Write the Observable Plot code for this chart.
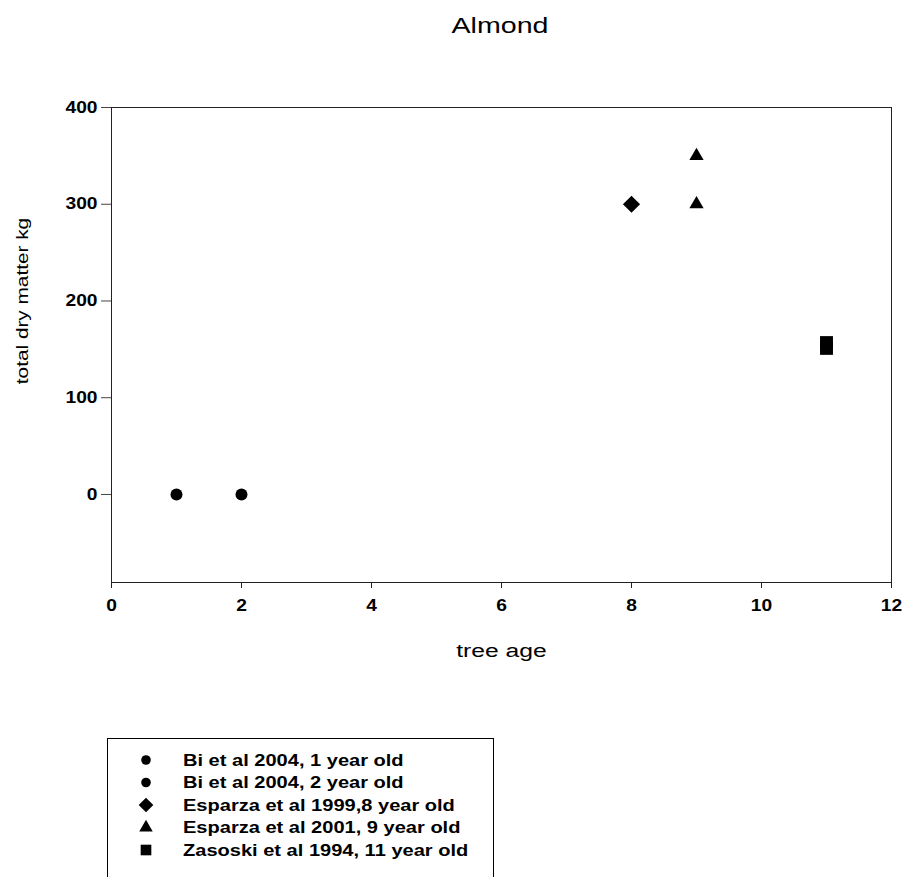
<!DOCTYPE html>
<html><head><meta charset="utf-8">
<script src="https://cdn.jsdelivr.net/npm/d3@7"></script>
<script src="https://cdn.jsdelivr.net/npm/@observablehq/plot@0.6"></script>
<style>
html,body{margin:0;padding:0;background:#fff;overflow:hidden}
#root{position:relative;width:906px;height:877px;font-family:"Liberation Sans",Arial,sans-serif;overflow:hidden}
#root > svg{position:absolute;left:0;top:0}
#root g[aria-label="x-axis tick label"], #root g[aria-label="y-axis tick label"]{font-weight:bold;font-size:16px}
</style></head><body><div id="root"></div>
<script>
// ---- data ----
const title = "Almond";
const xLabel = "tree age";
const yLabel = "total dry matter kg";
const xTicks = [0, 2, 4, 6, 8, 10, 12];
const yTicks = [0, 100, 200, 300, 400];
const seriesNames = [
  "Bi et al 2004, 1 year old",
  "Bi et al 2004, 2 year old",
  "Esparza et al 1999,8 year old",
  "Esparza et al 2001, 9 year old",
  "Zasoski et al 1994, 11 year old"
];
const seriesSymbols = ["circle", "circle", "diamond2", "triangle", "square"];
const pointSeries = [0, 1, 2, 3, 3, 4, 4];
const pointAge = [1, 2, 8, 9, 9, 11, 11];
const pointMatter = [0, 0, 300, 350, 300, 157, 151];

// ---- styles ----
const FONT = '"Liberation Sans", Arial, sans-serif';
const chartR = {circle: 6, diamond2: 7.7, triangle: 5.3, square: 7.3};
const legendR = {circle: 4.8, diamond2: 6.6, triangle: 5.0, square: 6.0};

const points = pointAge.map((a, i) => ({
  age: a, matter: pointMatter[i],
  series: seriesNames[pointSeries[i]],
  symbol: seriesSymbols[pointSeries[i]]
}));

const symbolTypes = Array.from(new Set(seriesSymbols));

const chart = Plot.plot({
  width: 906, height: 700,
  marginTop: 107, marginRight: 15, marginBottom: 118, marginLeft: 111,
  style: {fontFamily: FONT, fontSize: "16px", color: "#000", background: "transparent", overflow: "visible"},
  x: {domain: [0, 12]},
  y: {domain: [-91, 400]},
  marks: [
    Plot.frame({stroke: "#222"}),
    Plot.axisX({ticks: xTicks, tickSize: 6, tickPadding: 11, label: null, stroke: "#222", fontSize: 16}),
    Plot.axisY({ticks: yTicks, tickSize: 10, tickPadding: 4, label: null, stroke: "#444", fontSize: 16}),
    Plot.text([xLabel], {text: d => d, frameAnchor: "bottom", textAnchor: "middle", lineAnchor: "middle", dy: 68, fontSize: 19}),
    Plot.text([yLabel], {text: d => d, frameAnchor: "left", textAnchor: "middle", lineAnchor: "middle", dx: -89, dy: -44, rotate: -90, fontSize: 16}),
    ...symbolTypes.map(s => Plot.dot(points.filter(d => d.symbol === s), {
      x: "age", y: "matter", symbol: s, r: chartR[s], fill: "black", stroke: "none"
    }))
  ]
});

// widen text (reference font is horizontally wide)
function stretchText(svg) {
  svg.querySelectorAll("text").forEach(el => {
    const inAxis = el.closest('g[aria-label$="tick label"]');
    const k = inAxis ? 1.2 : 1.3;
    const t = el.getAttribute("transform");
    if (t) el.setAttribute("transform", t + ` scale(${k},1)`);
    else {
      const x = +el.getAttribute("x") || 0, y = +el.getAttribute("y") || 0;
      el.removeAttribute("x"); el.removeAttribute("y");
      el.setAttribute("transform", `translate(${x},${y}) scale(${k},1)`);
    }
  });
}
stretchText(chart);
document.getElementById("root").appendChild(chart);

// ---- title + legend overlay ----
const over = d3.create("svg").attr("width", 906).attr("height", 877)
  .style("font-family", FONT).style("pointer-events", "none");
over.append("text").text(title)
  .attr("text-anchor", "middle").attr("font-size", 22)
  .attr("transform", `translate(500,33) scale(1.3,1)`);

const lg = over.append("g");
lg.append("rect").attr("x", 107.5).attr("y", 738.5).attr("width", 386).attr("height", 200)
  .attr("fill", "none").attr("stroke", "#000");
const symMap = {circle: d3.symbolCircle, diamond2: d3.symbolDiamond2, triangle: d3.symbolTriangle, square: d3.symbolSquare};
seriesNames.forEach((name, i) => {
  const cy = 760 + i * 22.5;
  const s = seriesSymbols[i];
  lg.append("path").attr("d", d3.symbol(symMap[s], Math.PI * legendR[s] ** 2)())
    .attr("transform", `translate(146,${cy})`).attr("fill", "#000");
  lg.append("text").text(name).attr("font-size", 17).attr("font-weight", "bold")
    .attr("dy", "0.35em")
    .attr("transform", `translate(183,${cy}) scale(1.18,1)`);
});
document.getElementById("root").appendChild(over.node());
</script>
</body></html>
